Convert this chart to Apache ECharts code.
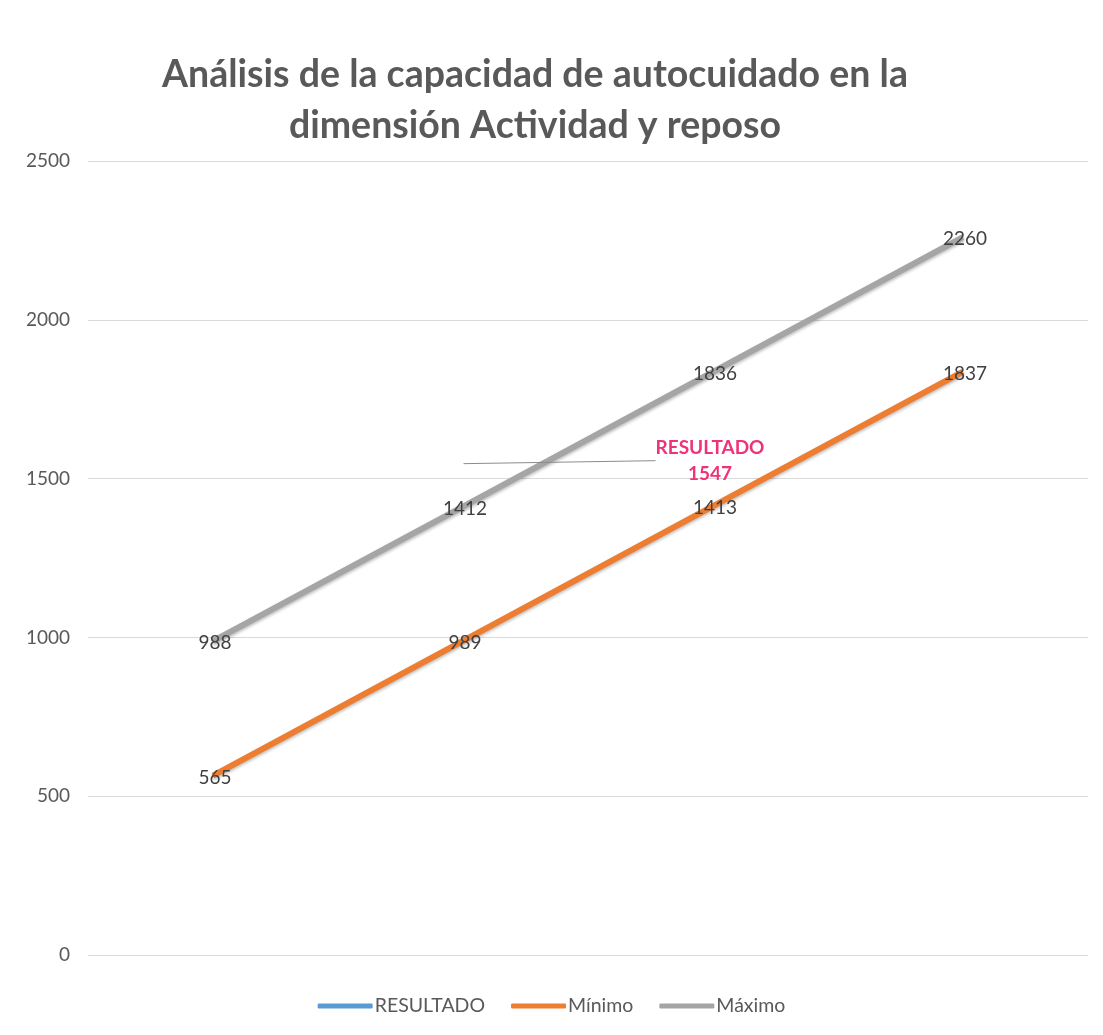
<!DOCTYPE html>
<html>
<head>
<meta charset="utf-8">
<script src="https://cdn.jsdelivr.net/npm/echarts@6/dist/echarts.min.js"></script>
<style>
  html, body { margin: 0; padding: 0; background: #ffffff; }
  #chart { width: 1103px; height: 1035px; }
</style>
</head>
<body>
<div id="chart"></div>
<script>
// Series values along the four measurement points
const categories = ['1', '2', '3', '4'];
const resultado = [null, 1547, null, null];
const minimo = [565, 989, 1413, 1837];
const maximo = [988, 1412, 1836, 2260];
const yTicks = [0, 500, 1000, 1500, 2000, 2500];

const FONT = 'Lato, "Open Sans", sans-serif';
const chart = echarts.init(document.getElementById('chart'));

// Value labels sit centred on each point
const valueLabel = {
  show: true,
  position: 'inside',
  color: '#404040',
  fontFamily: FONT,
  fontSize: 19,
  offset: [2, 2]
};

const hiddenPoint = { color: 'rgba(0,0,0,0)', borderWidth: 0 };

chart.setOption({
  backgroundColor: '#ffffff',
  title: {
    text: 'Análisis de la capacidad de autocuidado en la\ndimensión Actividad y reposo',
    left: 530,
    textAlign: 'center',
    top: 44,
    textStyle: {
      fontFamily: FONT,
      fontWeight: 'bold',
      fontSize: 37.5,
      lineHeight: 51,
      color: '#595959'
    }
  },
  legend: {
    bottom: 14,
    left: 'center',
    icon: 'roundRect',
    itemWidth: 55,
    itemHeight: 5,
    itemGap: 26,
    textStyle: { fontFamily: FONT, fontSize: 19.5, color: '#595959', padding: [0, 0, 0, -3] },
    data: [
      { name: 'RESULTADO', itemStyle: { color: '#5B9BD5' } },
      { name: 'Mínimo', itemStyle: { color: '#ED7D31' } },
      { name: 'Máximo', itemStyle: { color: '#A5A5A5' } }
    ]
  },
  grid: { left: 88, right: 15, top: 161, bottom: 80 },
  xAxis: {
    type: 'category',
    data: categories,
    boundaryGap: true,
    axisLine: { show: false },
    axisTick: { show: false },
    axisLabel: { show: false }
  },
  yAxis: {
    type: 'value',
    min: yTicks[0],
    max: yTicks[yTicks.length - 1],
    interval: 500,
    axisLine: { show: false },
    axisTick: { show: false },
    axisLabel: {
      color: '#595959',
      fontFamily: FONT,
      fontSize: 19,
      margin: 18,
      formatter: (v) => String(v)
    },
    splitLine: { lineStyle: { color: '#d9d9d9', width: 1 } }
  },
  series: [
    {
      name: 'RESULTADO',
      type: 'line',
      data: resultado,
      color: '#5B9BD5',
      symbol: 'circle',
      symbolSize: 1,
      itemStyle: hiddenPoint,
      lineStyle: { width: 6, color: '#5B9BD5' },
      label: {
        show: true,
        position: 'inside',
        formatter: (p) => 'RESULTADO\n' + p.value,
        color: '#EE3378',
        fontFamily: FONT,
        fontWeight: 'bold',
        fontSize: 19,
        lineHeight: 26,
        align: 'center'
      },
      labelLayout: { dx: 247, dy: -3 },
      labelLine: { show: true, lineStyle: { color: '#8c8c8c', width: 1 } },
      z: 5
    },
    {
      name: 'Mínimo',
      type: 'line',
      data: minimo,
      color: '#ED7D31',
      symbol: 'circle',
      symbolSize: 1,
      itemStyle: hiddenPoint,
      lineStyle: { width: 6, color: '#ED7D31', shadowColor: 'rgba(0,0,0,0.25)', shadowBlur: 3, shadowOffsetY: 2 },
      label: valueLabel
    },
    {
      name: 'Máximo',
      type: 'line',
      data: maximo,
      color: '#A5A5A5',
      symbol: 'circle',
      symbolSize: 1,
      itemStyle: hiddenPoint,
      lineStyle: { width: 6, color: '#A5A5A5', shadowColor: 'rgba(0,0,0,0.25)', shadowBlur: 3, shadowOffsetY: 2 },
      label: valueLabel
    }
  ]
});
</script>
</body>
</html>
